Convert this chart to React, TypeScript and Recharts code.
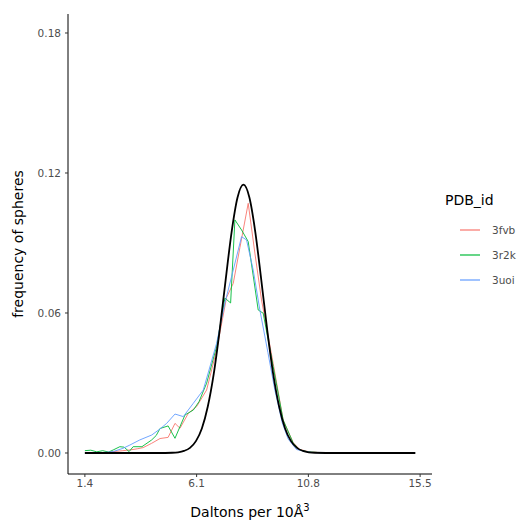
import { LineChart, Line, XAxis, YAxis } from 'recharts';

// x positions (Daltons per 10Å³) and sphere frequencies
const fvbX = [1.4, 1.9, 2.3, 2.6, 3.0, 3.3, 3.6, 3.85, 4.2, 4.56, 4.9, 5.19, 5.4, 5.75, 6.1, 6.52, 6.94, 7.36, 7.64, 7.92, 8.27, 8.55, 8.83, 9.32, 9.74, 10.16, 10.44, 10.8, 11.2, 11.6];
const fvbY = [0, 0, 0.0003, 0.0006, 0.001, 0.0013, 0.0018, 0.0023, 0.0041, 0.0062, 0.0067, 0.0127, 0.0106, 0.017, 0.0199, 0.027, 0.0441, 0.0667, 0.0727, 0.088, 0.107, 0.0857, 0.0656, 0.0384, 0.0141, 0.0045, 0.0015, 0.0006, 0.0002, 0];

const r2kX = [1.4, 1.65, 1.9, 2.15, 2.4, 2.59, 2.87, 3.05, 3.26, 3.43, 3.8, 4.21, 4.4, 4.56, 4.9, 5.19, 5.61, 5.96, 6.2, 6.52, 6.94, 7.29, 7.53, 7.71, 7.99, 8.27, 8.69, 8.9, 9.32, 9.74, 10.16, 10.44, 10.8, 11.2, 11.6];
const r2kY = [0.001, 0.0012, 0.0005, 0.001, 0.0004, 0.0013, 0.0027, 0.0025, 0.0006, 0.0027, 0.0027, 0.0056, 0.0075, 0.0105, 0.0116, 0.0063, 0.0163, 0.0184, 0.022, 0.0299, 0.0456, 0.0664, 0.0643, 0.0999, 0.0956, 0.0906, 0.0613, 0.0599, 0.037, 0.0141, 0.0043, 0.0013, 0.0005, 0.0002, 0];

const uoiX = [1.4, 2.0, 2.59, 3.0, 3.29, 3.71, 4.21, 4.56, 4.84, 5.19, 5.54, 5.96, 6.38, 6.94, 7.29, 7.64, 7.99, 8.2, 8.48, 8.76, 9.1, 9.39, 9.7, 9.95, 10.3, 10.8, 11.2, 11.6];
const uoiY = [0, 0, 0.0006, 0.002, 0.0034, 0.0056, 0.0077, 0.0103, 0.0127, 0.0167, 0.0156, 0.0213, 0.027, 0.047, 0.0643, 0.0784, 0.0927, 0.0913, 0.0784, 0.0613, 0.043, 0.027, 0.013, 0.006, 0.0015, 0.0004, 0.0001, 0];

// overall (black) density
const refX = [1.4, 3.0, 4.5, 5.07, 5.32, 5.57, 5.82, 6.07, 6.32, 6.57, 6.82, 7.07, 7.32, 7.57, 7.82, 8.07, 8.32, 8.57, 8.82, 9.07, 9.32, 9.57, 9.82, 10.07, 10.32, 10.57, 10.82, 11.07, 12.0, 14.0, 15.3];
const refY = [0, 0, 0, 0.0001, 0.0003, 0.0009, 0.0022, 0.0051, 0.0105, 0.0199, 0.0339, 0.0527, 0.0741, 0.0946, 0.1095, 0.115, 0.1095, 0.0946, 0.0741, 0.0527, 0.0339, 0.0199, 0.0105, 0.0051, 0.0022, 0.0009, 0.0003, 0.0001, 0, 0, 0];

const xTicks = [1.4, 6.1, 10.8, 15.5];
const yTicks = [0, 0.06, 0.12, 0.18];

const pdbIds = ['3fvb', '3r2k', '3uoi'];
const colors = ['#F8766D', '#00BA38', '#619CFF'];

const toRows = (xs: number[], ys: number[]) => xs.map((x, i) => ({ x, y: ys[i] }));

const font = '"DejaVu Sans", sans-serif';
const tickStyle = { fill: '#4d4d4d', fontSize: 10.5, fontFamily: font };

export default function App() {
  const series = [toRows(fvbX, fvbY), toRows(r2kX, r2kY), toRows(uoiX, uoiY)];

  return (
    <div style={{ position: 'absolute', left: 0, top: 0, width: 521, height: 522, background: '#fff', fontFamily: font }}>
      <LineChart width={521} height={522} margin={{ top: 14, right: 89, bottom: 0, left: 0 }}>
        <XAxis
          type="number"
          dataKey="x"
          domain={[0.69, 16.0]}
          ticks={xTicks}
          tickFormatter={(v: number) => v.toFixed(1)}
          allowDataOverflow
          height={48}
          tickSize={3}
          tickMargin={3}
          stroke="#000"
          tickLine={{ stroke: '#333' }}
          tick={tickStyle}
        />
        <YAxis
          type="number"
          dataKey="y"
          domain={[-0.009, 0.18814]}
          ticks={yTicks}
          tickFormatter={(v: number) => v.toFixed(2)}
          allowDataOverflow
          width={68}
          tickSize={3}
          tickMargin={4}
          stroke="#000"
          tickLine={{ stroke: '#333' }}
          tick={tickStyle}
        />
        {series.map((rows, i) => (
          <Line
            key={pdbIds[i]}
            data={rows}
            dataKey="y"
            type="linear"
            stroke={colors[i]}
            strokeWidth={0.9}
            dot={false}
            isAnimationActive={false}
          />
        ))}
        <Line
          data={toRows(refX, refY)}
          dataKey="y"
          type="monotone"
          stroke="#000"
          strokeWidth={1.8}
          dot={false}
          isAnimationActive={false}
        />
      </LineChart>

      <div
        style={{
          position: 'absolute',
          left: 18,
          top: 244,
          transform: 'translate(-50%, -50%) rotate(-90deg)',
          fontSize: 14,
          color: '#000',
          whiteSpace: 'nowrap',
        }}
      >
        frequency of spheres
      </div>
      <div
        style={{
          position: 'absolute',
          left: 250,
          top: 511,
          transform: 'translate(-50%, -50%)',
          fontSize: 14,
          color: '#000',
          whiteSpace: 'nowrap',
        }}
      >
        Daltons per 10Å<sup style={{ fontSize: 10 }}>3</sup>
      </div>

      <div style={{ position: 'absolute', left: 445, top: 192, fontSize: 14, color: '#000' }}>PDB_id</div>
      {pdbIds.map((id, i) => (
        <div key={id} style={{ position: 'absolute', left: 460, top: 222 + i * 25, height: 16, display: 'flex', alignItems: 'center' }}>
          <svg width={20} height={4} style={{ display: 'block' }}>
            <line x1={0} y1={2} x2={20} y2={2} stroke={colors[i]} strokeWidth={1.2} />
          </svg>
          <span style={{ marginLeft: 12, fontSize: 10.5, color: '#4d4d4d' }}>{id}</span>
        </div>
      ))}
    </div>
  );
}
